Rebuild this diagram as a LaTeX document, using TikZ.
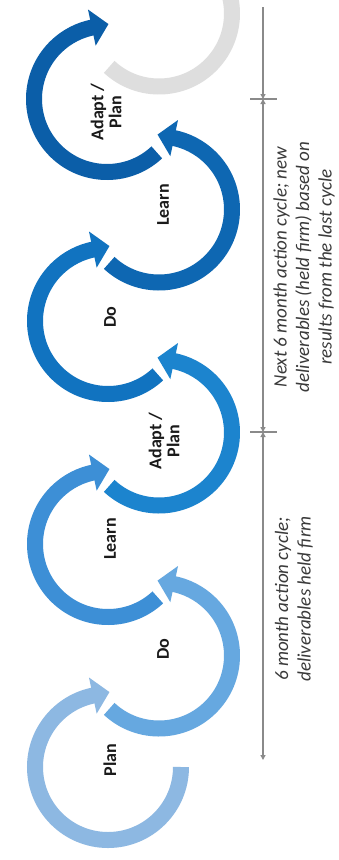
\documentclass[tikz,border=0pt]{standalone}
\usepackage{fontspec}
\setmainfont{Carlito}
\usetikzlibrary{calc,arrows.meta}
\definecolor{cA}{HTML}{8DB8E2}
\definecolor{cB}{HTML}{66A8E0}
\definecolor{cC}{HTML}{3D8FD6}
\definecolor{cD}{HTML}{1C84CE}
\definecolor{cE}{HTML}{1173C0}
\definecolor{cF}{HTML}{0E67B2}
\definecolor{cG}{HTML}{0B5EA8}
\definecolor{cGray}{HTML}{DEDEDE}
\definecolor{tline}{HTML}{8A8A8A}
\definecolor{labtext}{HTML}{1A1A1A}
\definecolor{ittext}{HTML}{3A3A3A}
\tikzset{
  band/.style={line width=16pt},
  lab/.style={font=\bfseries\fontsize{18}{18}\selectfont, text=labtext, align=center, inner sep=0pt, rotate=90},
  note/.style={font=\itshape\fontsize{19}{22.5}\selectfont, text=ittext, align=center, inner sep=0pt, rotate=90},
  tl/.style={draw=tline, line width=1.2pt},
  tip/.style={-{Triangle[length=5pt,width=5pt]}},
  tips/.style={{Triangle[length=5pt,width=5pt]}-{Triangle[length=5pt,width=5pt]}}
}
\newcommand{\mycycL}[3]{%
  \draw[band, #2] ($(#1)+(#3:73)$) arc[start angle=#3, end angle=-259, radius=73];
  \fill[#2] ($(#1)+(102:54.5)$) -- ($(#1)+(102:91.5)$) -- ($(#1)+(102:73)+(12:17)$) -- cycle;}
\newcommand{\mycycR}[2]{%
  \draw[band, #2] ($(#1)+(-133:73)$) arc[start angle=-133, end angle=79, radius=73];
  \fill[#2] ($(#1)+(78:54.5)$) -- ($(#1)+(78:91.5)$) -- ($(#1)+(78:73)+(168:17)$) -- cycle;}
\begin{document}
\begin{tikzpicture}[x=1pt,y=1pt]
\useasboundingbox (0,0) rectangle (338,-860);
\clip (0,0) rectangle (338,-860);
\fill[white] (0,0) rectangle (338,-860);
% circle centres
\coordinate (c1) at (108,-767);
\coordinate (c2) at (159,-655.5);
\coordinate (c3) at (108,-544);
\coordinate (c4) at (159,-432.5);
\coordinate (c5) at (108,-321);
\coordinate (c6) at (159,-209.5);
\coordinate (c7) at (107,-99);
\coordinate (c8) at (159,-13.5);
% grey next cycle
\draw[band, cGray] ($(c8)+(-133:73)$) arc[start angle=-133, end angle=40, radius=73];
% cycles
\mycycL{c1}{cA}{0}
\mycycR{c2}{cB}
\mycycL{c3}{cC}{-47}
\mycycR{c4}{cD}
\mycycL{c5}{cE}{-47}
\mycycR{c6}{cF}
\mycycL{c7}{cG}{-47}
% labels
\node[lab] (l1) at (110,-760) {Plan};
\node[lab] (l2) at (163,-649) {Do};
\node[lab] (l3) at (110,-539) {Learn};
\node[lab] (l4) at (164,-441) {Adapt /\\Plan};
\node[lab] (l5) at (110,-317) {Do};
\node[lab] (l6) at (163,-205) {Learn};
\node[lab] (l7) at (106,-112) {Adapt /\\Plan};
% timeline
\coordinate (t0) at (263,-7);
\coordinate (t1) at (263,-99);
\coordinate (t2) at (263,-432);
\coordinate (t3) at (263,-760);
\coordinate (k1a) at (250,-99);
\coordinate (k1b) at (277,-99);
\coordinate (k2a) at (250,-432);
\coordinate (k2b) at (277,-432);
\draw[tl, tip] (t0) -- (t1);
\draw[tl, tips] (t1) -- (t2);
\draw[tl, tips] (t2) -- (t3);
\draw[tl] (k1a) -- (k1b);
\draw[tl] (k2a) -- (k2b);
% notes
\node[note] (n1) at (304,-267) {Next 6 month action cycle; new\\deliverables (held firm) based on\\results from the last cycle};
\node[note] (n2) at (294,-599) {6 month action cycle;\\deliverables held firm};
\end{tikzpicture}
\end{document}
